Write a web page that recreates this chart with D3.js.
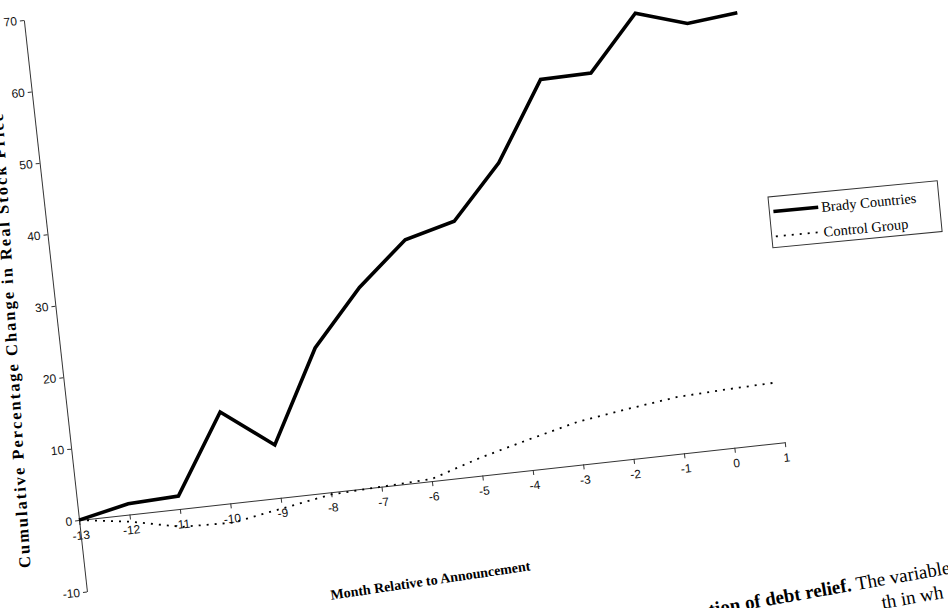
<!DOCTYPE html>
<html lang="en">
<head>
<meta charset="UTF-8">
<title>Brady countries - stock prices</title>
<script src="https://cdn.jsdelivr.net/npm/d3@7"></script>
<style>
  body{margin:0;background:#fff}
  svg{display:block}
</style>
</head>
<body>
<svg id="chart" width="948" height="608"></svg>
<script>
    // values
    let months=[-13,-12,-11,-10,-9,-8,-7,-6,-5,-4,-3,-2,-1,0,1]
    let brady=[0,1.5,1.8,12.8,7.4,20.2,27.9,33.8,35.6,43.0,53.9,54.0,61.6,59.4,60.1]
    let control=[0,-1.0,-2.5,-2.7,-1.5,-0.3,0,0.3,2.5,4.3,6.0,7.0,7.9,8.2,8.4]
    let yTicks=[-10,0,10,20,30,40,50,60,70]
    let seriesNames=["Brady Countries","Control Group"]

    let svg=d3.select("#chart")

    // the page was scanned a bit crooked, so the whole plot is turned
    let plot=svg.append("g").attr("transform","translate(79,520) rotate(-6.3)")

    let x=d3.scaleLinear().domain([-13,1]).range([0,710])
    let y=d3.scaleLinear().domain([-10,70]).range([72,-503])

    let xaxis=d3.axisBottom(x).tickValues(months).tickSize(5).tickSizeOuter(0).tickPadding(6)
        .tickFormat(d=>String(d))
    let gx=plot.append("g")
        .attr("transform","translate(0,"+y(0)+")")
        .call(xaxis)

    let yaxis=d3.axisLeft(y).tickValues(yTicks).tickSize(4).tickSizeOuter(0).tickPadding(3)
        .tickFormat(d=>String(d))
    let gy=plot.append("g")
        .attr("transform","translate("+x(-13)+",0)")
        .call(yaxis)

    plot.selectAll(".domain").attr("stroke","#333").attr("stroke-width",1)
    plot.selectAll(".tick line").attr("stroke","#333")
    plot.selectAll(".tick text")
        .attr("font-family","'Liberation Sans', Arial, sans-serif")
        .attr("font-size",12)
        .attr("fill","#111")

    let line=d3.line()
        .x((d,i)=>x(months[i]))
        .y(d=>y(d))

    plot.append("path")
        .attr("d",line(control))
        .attr("fill","none")
        .attr("stroke","#000")
        .attr("stroke-width",1.8)
        .attr("stroke-dasharray","2,6")

    plot.append("path")
        .attr("d",line(brady))
        .attr("fill","none")
        .attr("stroke","#000")
        .attr("stroke-width",3.6)
        .attr("stroke-linejoin","miter")

    // axis titles
    svg.append("text")
        .attr("transform","translate(25,568) rotate(-93.5)")
        .attr("font-family","'Liberation Serif', 'Times New Roman', serif")
        .attr("font-weight","bold")
        .attr("font-size",16.5)
        .attr("letter-spacing",2)
        .attr("dominant-baseline","central")
        .text("Cumulative Percentage Change in Real Stock Price")

    svg.append("text")
        .attr("transform","translate(431,585) rotate(-8.4)")
        .attr("text-anchor","middle")
        .attr("font-family","'Liberation Serif', 'Times New Roman', serif")
        .attr("font-weight","bold")
        .attr("font-size",14)
        .text("Month Relative to Announcement")

    // legend
    let legend=svg.append("g").attr("transform","translate(768,197) rotate(-5.5)")
    legend.append("rect")
        .attr("width",170).attr("height",51)
        .attr("fill","#fff").attr("stroke","#333").attr("stroke-width",1)

    let entries=legend.selectAll("g.entry")
        .data(seriesNames)
        .enter()
        .append("g")
        .attr("class","entry")
        .attr("transform",(d,i)=>"translate(0,"+(15+i*25)+")")

    entries.append("line")
        .attr("x1",4).attr("x2",49)
        .attr("stroke","#000")
        .attr("stroke-width",(d,i)=>i==0?3.6:1.8)
        .attr("stroke-dasharray",(d,i)=>i==0?null:"2,6")

    entries.append("text")
        .attr("x",52)
        .attr("dominant-baseline","central")
        .attr("font-family","'Liberation Serif', 'Times New Roman', serif")
        .attr("font-size",14.5)
        .text(d=>d)

    // bit of the printed caption underneath
    let caption=svg.append("g").attr("transform","translate(857,590) rotate(-10)")
    caption.append("text")
        .attr("x",-5)
        .attr("text-anchor","end")
        .attr("font-family","'Liberation Serif', 'Times New Roman', serif")
        .attr("font-weight","bold")
        .attr("font-size",19)
        .text("tion of debt relief.")
    caption.append("text")
        .attr("x",0)
        .attr("font-family","'Liberation Serif', 'Times New Roman', serif")
        .attr("font-size",19)
        .text("The variable")
    caption.append("text")
        .attr("x",22).attr("y",23)
        .attr("font-family","'Liberation Serif', 'Times New Roman', serif")
        .attr("font-size",19)
        .text("th in wh")
</script>
</body>
</html>
